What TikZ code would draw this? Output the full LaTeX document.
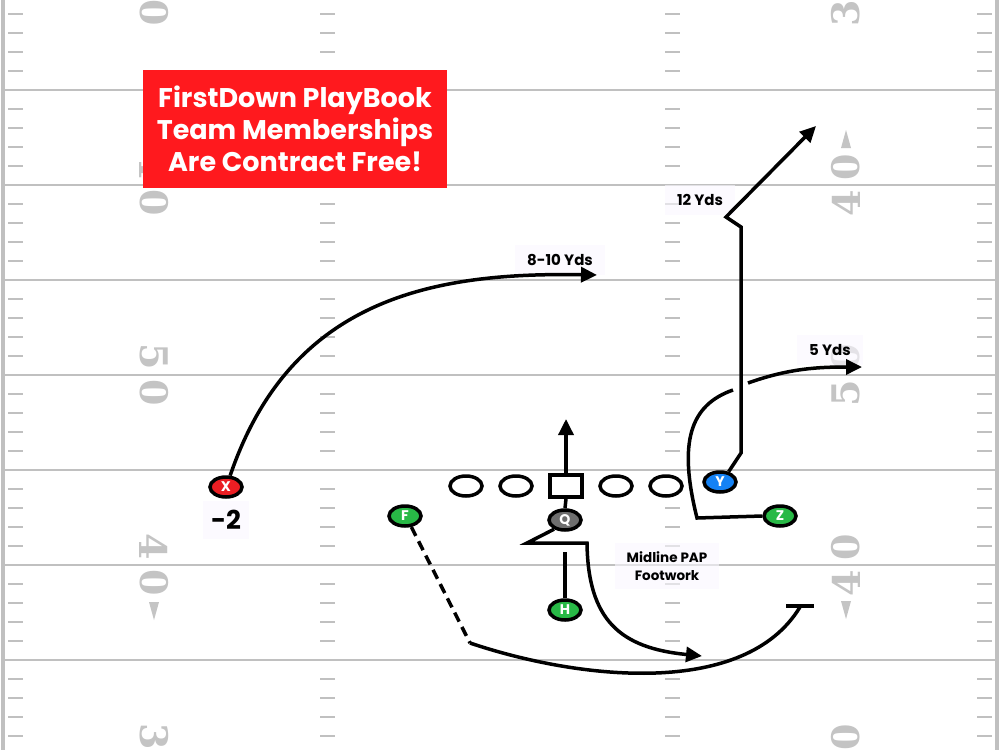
\documentclass[tikz,border=0pt]{standalone}
\usepackage{fontspec}
\setmainfont{Poppins}
\newfontfamily\yardfont{DejaVu Serif}
\usetikzlibrary{arrows.meta,shapes.geometric}

\definecolor{fieldgrey}{RGB}{192,192,192}
\definecolor{numgrey}{RGB}{196,196,196}
\definecolor{bannerred}{RGB}{255,25,30}
\definecolor{xred}{RGB}{235,30,35}
\definecolor{yblue}{RGB}{20,130,245}
\definecolor{pgreen}{RGB}{40,185,70}
\definecolor{qgrey}{RGB}{110,110,110}
\definecolor{tagbg}{RGB}{250,247,255}

\tikzset{
	yardline/.style={draw=fieldgrey, line width=2pt},
	sideline/.style={draw=fieldgrey, line width=4pt},
	hashmark/.style={draw=fieldgrey, line width=2pt},
	yardnum/.style={text=numgrey, inner sep=0pt, font=\yardfont\bfseries\fontsize{38}{38}\selectfont},
	banner/.style={fill=bannerred, text=white, align=center, minimum width=304pt, minimum height=118pt, inner xsep=4pt, font=\bfseries\fontsize{27}{32}\selectfont},
	tag/.style={fill=tagbg, fill opacity=0.6, text opacity=1, inner xsep=12pt, inner ysep=9pt, align=center, font=\bfseries\fontsize{15}{18}\selectfont},
	player/.style={ellipse, draw=black, line width=3.5pt, minimum width=32pt, minimum height=20pt, inner sep=0pt, text=white, font=\bfseries\fontsize{14}{14}\selectfont},
	lineman/.style={ellipse, draw=black, line width=3.5pt, minimum width=32pt, minimum height=20pt, inner sep=0pt, fill=white},
	center/.style={rectangle, draw=black, line width=3.5pt, minimum width=32pt, minimum height=22pt, inner sep=0pt, fill=white},
	route/.style={draw=black, line width=3.5pt},
	routearrow/.style={route, -{Triangle[length=16pt,width=15pt]}}
}

\begin{document}
\begin{tikzpicture}[x=1pt, y=-1pt]
	%%%%% FIELD %%%%%
	\fill[white] (0,0) rectangle (1000,750);
	\useasboundingbox (0,0) rectangle (1000,750);
	
	\foreach \yy in {90,185,...,660}
		\draw[yardline] (3,\yy) -- (997,\yy);
	\draw[sideline] (3,0) -- (3,750);
	\draw[sideline] (997,0) -- (997,750);
	
	\foreach \yy in {-5,90,...,660}
		\foreach \k in {1,2,3,4} {
			\draw[hashmark] (8,{\yy+19*\k}) -- ++(15,0);
			\draw[hashmark] (320,{\yy+19*\k}) -- ++(15,0);
			\draw[hashmark] (665,{\yy+19*\k}) -- ++(15,0);
			\draw[hashmark] (977,{\yy+19*\k}) -- ++(15,0);
		}
	
	% left numbers
	\node[yardnum, rotate=-90] (l30a) at (154,-23) {3};
	\node[yardnum, rotate=-90] (l30b) at (154,13) {0};
	\node[yardnum, rotate=-90] (l40a) at (154,167) {4};
	\node[yardnum, rotate=-90] (l40b) at (154,203) {0};
	\node[yardnum, rotate=-90] (l50a) at (154,357) {5};
	\node[yardnum, rotate=-90] (l50b) at (154,393) {0};
	\node[yardnum, rotate=-90] (l41a) at (154,547) {4};
	\node[yardnum, rotate=-90] (l41b) at (154,583) {0};
	\node[yardnum, rotate=-90] (l31a) at (154,737) {3};
	\node[yardnum, rotate=-90] (l31b) at (154,773) {0};
	\fill[numgrey] (149,149) -- (159,149) -- (154,131) -- cycle;
	\fill[numgrey] (149,602) -- (159,602) -- (154,620) -- cycle;
	
	% right numbers
	\node[yardnum, rotate=90] (r30a) at (846,-23) {0};
	\node[yardnum, rotate=90] (r30b) at (846,13) {3};
	\node[yardnum, rotate=90] (r40a) at (846,167) {0};
	\node[yardnum, rotate=90] (r40b) at (846,203) {4};
	\node[yardnum, rotate=90] (r50a) at (846,357) {0};
	\node[yardnum, rotate=90] (r50b) at (846,393) {5};
	\node[yardnum, rotate=90] (r41a) at (846,547) {0};
	\node[yardnum, rotate=90] (r41b) at (846,583) {4};
	\node[yardnum, rotate=90] (r31a) at (846,737) {0};
	\node[yardnum, rotate=90] (r31b) at (846,773) {3};
	\fill[numgrey] (841,148) -- (851,148) -- (846,130) -- cycle;
	\fill[numgrey] (841,601) -- (851,601) -- (846,619) -- cycle;
	
	\node[banner] (promo) at (295,129) {FirstDown PlayBook\\Team Memberships\\Are Contract Free!};
	
	%%%%% LABELS %%%%%
	\node[tag] (lblx) at (560,260) {8-10 Yds};
	\node[tag] (lbly) at (700,200) {12 Yds};
	\node[tag] (lblz) at (830,350) {5 Yds};
	\node[tag, font=\bfseries\fontsize{26}{26}\selectfont, inner xsep=8pt] (lbldepth) at (226,520) {-2};
	\node[tag, font=\bfseries\fontsize{13.5}{18}\selectfont] (lblmid) at (667,566) {Midline PAP\\Footwork};
	
	%%%%% PLAYERS %%%%%
	\node[lineman] (LT) at (466,486) {};
	\node[lineman] (LG) at (516,486) {};
	\node[center] (C) at (566,486) {};
	\node[lineman] (RG) at (616,486) {};
	\node[lineman] (RT) at (666,486) {};
	
	\node[player, fill=xred] (X) at (226,487) {X};
	\node[player, fill=yblue] (Y) at (720,482) {Y};
	\node[player, fill=pgreen] (Z) at (780,516) {Z};
	\node[player, fill=pgreen] (F) at (405,516) {F};
	\node[player, fill=qgrey] (Q) at (565,520) {Q};
	\node[player, fill=pgreen] (H) at (565,610) {H};
	
	\coordinate (xend) at (597,275);
	\coordinate (cend) at (566,419);
	\coordinate (q1) at (527,543);
	\coordinate (q2) at (587,543);
	\coordinate (qend) at (702,656);
	\coordinate (hblock) at (565,552);
	\coordinate (y1) at (741,453);
	\coordinate (y2) at (741,227);
	\coordinate (y3) at (726,217);
	\coordinate (yend) at (816,126);
	\coordinate (z1) at (697,518);
	\coordinate (zgap1) at (733,390);
	\coordinate (zgap2) at (748,383);
	\coordinate (zend) at (862,367);
	\coordinate (f1) at (470,643);
	\coordinate (fend) at (800,607);
	\coordinate (fbarl) at (786,606);
	\coordinate (fbarr) at (814,606);
	
	%%%%% ROUTES %%%%%
	\draw[routearrow] (X.70) .. controls (290,300) and (430,272) .. (xend);
	\draw[routearrow] (C.north) -- (cend);
	\draw[route] (C.south) -- (Q.north);
	\draw[routearrow] (Q.220) -- (q1) -- (q2) .. controls (588,620) and (620,648) .. (qend);
	\draw[route] (H.north) -- (hblock);
	\draw[routearrow] (Y.50) -- (y1) -- (y2) -- (y3) -- (yend);
	\draw[route] (Z.west) -- (z1) .. controls (678,442) and (690,405) .. (zgap1);
	\draw[routearrow] (zgap2) .. controls (790,368) and (820,367) .. (zend);
	\draw[route, dash pattern=on 10pt off 6pt] (F.300) -- (f1);
	\draw[route] (f1) .. controls (580,680) and (745,698) .. (fend);
	\draw[route] (fbarl) -- (fbarr);
\end{tikzpicture}
\end{document}
